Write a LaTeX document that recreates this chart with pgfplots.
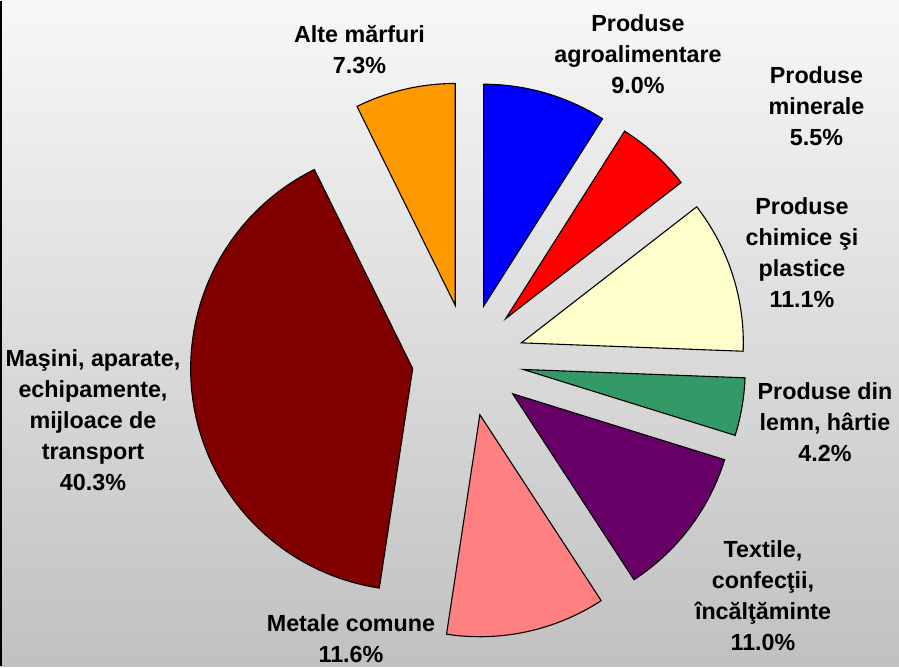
\documentclass[border=0pt]{standalone}
\usepackage{pgfplots}
\pgfplotsset{compat=1.18}
\usepackage{pgfplotstable}
\usepackage{fontspec}
\setmainfont{Liberation Sans}

\definecolor{slice0}{HTML}{0000FF}
\definecolor{slice1}{HTML}{FF0000}
\definecolor{slice2}{HTML}{FFFFCC}
\definecolor{slice3}{HTML}{339966}
\definecolor{slice4}{HTML}{660066}
\definecolor{slice5}{HTML}{FF8080}
\definecolor{slice6}{HTML}{800000}
\definecolor{slice7}{HTML}{FF9900}

\tikzset{lbl/.style={font=\fontsize{23.3}{31}\selectfont\bfseries, align=center, inner sep=0pt, anchor=center}}

% shares in percent, clockwise from 12 o'clock
\pgfplotstableread{
share
9.0
5.5
11.1
4.2
11.0
11.6
40.3
7.3
}\piedata

\def\pieCX{468}
\def\pieCY{306}
\def\pieExp{56}
\def\pieR{222}

\makeatletter
\gdef\pie@start{90}
\pgfplotsforeachungrouped \i in {0,...,7}{%
  \pgfplotstablegetelem{\i}{share}\of\piedata
  \pgfmathsetmacro\pieSa{\pie@start}%
  \pgfmathsetmacro\pieSb{\pie@start - 3.6*\pgfplotsretval}%
  \pgfmathsetmacro\pieSm{(\pieSa+\pieSb)/2}%
  \pgfmathsetmacro\pieSx{\pieCX + \pieExp*cos(\pieSm)}%
  \pgfmathsetmacro\pieSy{\pieCY + \pieExp*sin(\pieSm)}%
  \expandafter\xdef\csname pieA\i\endcsname{\pieSa}%
  \expandafter\xdef\csname pieB\i\endcsname{\pieSb}%
  \expandafter\xdef\csname pieX\i\endcsname{\pieSx}%
  \expandafter\xdef\csname pieY\i\endcsname{\pieSy}%
  \xdef\pie@start{\pieSb}%
}
\makeatother

\begin{document}
\begin{tikzpicture}
\begin{axis}[
  width=899pt, height=665pt, scale only axis,
  xmin=0, xmax=899, ymin=0, ymax=665,
  hide axis, clip=false,
]
\fill[top color=white!97!black, bottom color=black!24.5] (axis cs:0,0) rectangle (axis cs:899,665);
\draw[line width=2pt] (axis cs:1,0) -- (axis cs:1,665);

\pgfplotsinvokeforeach{0,...,7}{
  \filldraw[fill=slice#1, draw=black, line width=1.1pt, line join=miter]
    (axis cs:\csname pieX#1\endcsname,\csname pieY#1\endcsname)
    -- ++(\csname pieA#1\endcsname:\pieR pt)
    arc[start angle=\csname pieA#1\endcsname, end angle=\csname pieB#1\endcsname, radius=\pieR pt]
    -- cycle;
}

\node[lbl] at (axis cs:359.5,616.5) {Alte mărfuri\\7.3\%};
\node[lbl] at (axis cs:638,611.5) {Produse\\agroalimentare\\9.0\%};
\node[lbl] at (axis cs:816.5,560) {Produse\\minerale\\5.5\%};
\node[lbl] at (axis cs:802,413.5) {Produse\\chimice şi\\plastice\\11.1\%};
\node[lbl] at (axis cs:825,244) {Produse din\\lemn, hârtie\\4.2\%};
\node[lbl] at (axis cs:763,70) {Textile,\\confecţii,\\încălţăminte\\11.0\%};
\node[lbl] at (axis cs:351,27) {Metale comune\\11.6\%};
\node[lbl] at (axis cs:93,246) {Maşini, aparate,\\echipamente,\\mijloace de\\transport\\40.3\%};
\end{axis}
\end{tikzpicture}
\end{document}
